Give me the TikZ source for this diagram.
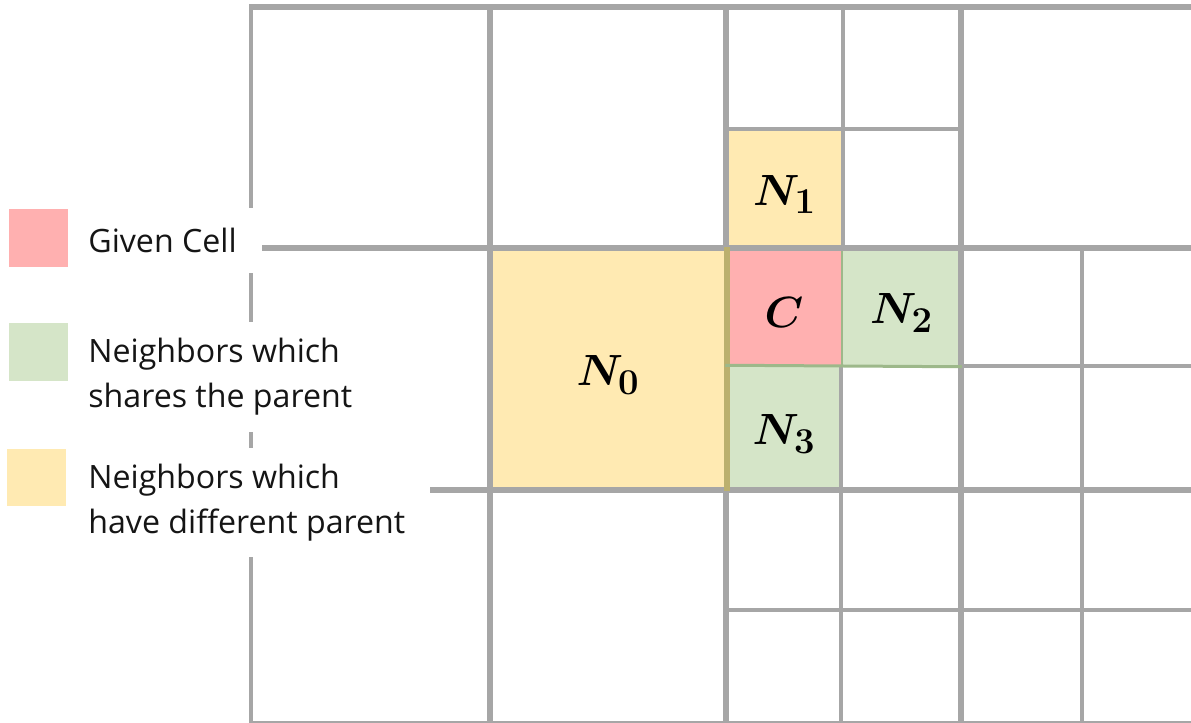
\documentclass[tikz,border=0pt]{standalone}
\usepackage{fontspec}
\setmainfont{Open Sans}
\usepackage{bm}
\usetikzlibrary{fit, positioning}
\definecolor{gridgray}{HTML}{A6A6A6}
\definecolor{cellred}{HTML}{FFB0B0}
\definecolor{cellgreen}{HTML}{D5E5C8}
\definecolor{cellyellow}{HTML}{FFEAB2}
\definecolor{edgered}{HTML}{E8A0A0}
\definecolor{edgegreen}{HTML}{9DB88A}
\definecolor{edgeyellow}{HTML}{CDB57A}
\definecolor{edgeolive}{HTML}{BBB06E}
\definecolor{inkblack}{HTML}{151515}
\tikzset{
  % grid lines
  major/.style={draw=gridgray, line width=0.12cm},
  minor/.style={draw=gridgray, line width=0.08cm},
  % coloured cells
  cell/.style={
    rectangle, fill=cell#1, draw=edge#1, line width=0.03cm, inner sep=0pt
  },
  celltext/.style={font=\fontsize{28}{32}\selectfont, inner sep=0pt, yshift=-0.12cm},
  % legend
  swatch/.style={rectangle, fill=cell#1, minimum width=1.18cm, minimum height=1.16cm, inner sep=0pt},
  legendtext/.style={
    fill=white, align=left, anchor=west, inner xsep=0.5cm, inner ysep=0pt,
    text=inkblack, font=\fontsize{18.3}{25.6}\selectfont
  },
}

\begin{document}
\begin{tikzpicture}[x=0.02cm, y=-0.02cm]
  \useasboundingbox (0,0) rectangle (1191,723);

  % cells
  \node[cell=yellow, fit={(490,248) (726,490)}, label={[celltext]center:$\bm{N}_{\bm{0}}$}] (N0) {};
  \node[cell=yellow, fit={(726,129) (843,248)}, label={[celltext]center:$\bm{N}_{\bm{1}}$}] (N1) {};
  \node[cell=red,    fit={(726,248) (842,366)}, label={[celltext]center:$\bm{C}$}] (C) {};
  \node[cell=green,  fit={(842,248) (961,366)}, label={[celltext]center:$\bm{N}_{\bm{2}}$}] (N2) {};
  \node[cell=green,  fit={(726,366) (842,490)}, label={[celltext]center:$\bm{N}_{\bm{3}}$}] (N3) {};

  % quadtree grid
  \draw[minor] (251,7) -- (251,723);
  \draw[minor] (251,723) -- (1191,723);
  \draw[major] (249,7) -- (1191,7);
  \draw[major] (251,248) -- (1191,248);
  \draw[major] (251,490) -- (1191,490);
  \draw[major] (490,7) -- (490,723);
  \draw[major] (726,7) -- (726,248) (726,490) -- (726,723);
  \draw[major] (961,7) -- (961,723);
  \draw[minor] (843,7) -- (843,248);
  \draw[minor] (726,129) -- (961,129);
  \draw[minor] (961,366) -- (1191,366);
  \draw[minor] (1082,248) -- (1082,723);
  \draw[minor] (841,366) -- (841,723);
  \draw[minor] (726,610) -- (1191,610);
  \draw[draw=edgeolive, line width=0.12cm] (N0.north east) -- (N0.south east);
  \draw[draw=edgegreen, line width=0.06cm] (N3.north west) -- (N2.south east);

  % legend
  \node[legendtext, minimum height=1.3cm] (givtext) at (63,240.5) {Given Cell};
  \node[legendtext, minimum height=2.2cm] (sametext) at (63,377) {Neighbors which\\shares the parent};
  \node[legendtext, minimum height=2.2cm] (difftext) at (63,502.5) {Neighbors which\\have different parent};
  \node[swatch=red]    (giv)  at (38.5,238) {};
  \node[swatch=green]  (same) at (38.5,352) {};
  \node[swatch=yellow] (diff) at (36.5,477.5) {};
\end{tikzpicture}
\end{document}
